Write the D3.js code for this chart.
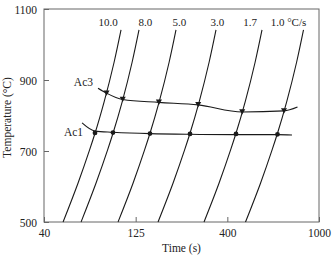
<!DOCTYPE html>
<html>
<head>
<meta charset="utf-8">
<script src="https://cdn.jsdelivr.net/npm/d3@7"></script>
<style>
body { margin: 0; background: #fff; }
text { font-family: "Liberation Serif", "DejaVu Serif", serif; fill: #222; }
</style>
</head>
<body>
<script>
// heating rates, one curve each
var rates = ["10.0", "8.0", "5.0", "3.0", "1.7", "1.0 °C/s"];

// every curve is read at the same temperatures (°C)
var curveTemps = [500, 610, 703, 750, 840, 950, 1041];
// time (s) of each curve at those temperatures
var curveTimes = [
  [50.7, 61.1, 70.5, 75.4, 84.6, 95.6, 104.2],
  [63.4, 76.4, 88.2, 94.3, 105.9, 119.6, 130.4],
  [100.4, 121.1, 140.0, 149.9, 168.7, 191.1, 208.5],
  [166.0, 201.0, 232.6, 249.1, 280.3, 317.4, 346.4],
  [297.5, 360.3, 413.3, 436.2, 478.7, 528.0, 565.7],
  [479.7, 557.8, 625.7, 660.4, 724.8, 799.4, 856.5]
];

// Ac3 points (triangles) and the ends of the Ac3 line
var ac3Times = [87.0, 106.4, 167.9, 276.4, 464.1, 704.8];
var ac3Temps = [863, 845, 837, 830, 810, 813];
var ac3Start = [78.3, 877];
var ac3End = [806.6, 824];

// Ac1 points (dots) and the Ac1 line
var ac1Times = [75.4, 94.3, 149.9, 249.1, 436.2, 660.4];
var ac1Temps = [751, 752, 749, 748, 748, 747];
var ac1LineTimes = [64.2, 75.4, 94.3, 149.9, 249.1, 436.2, 660.4, 763.4];
var ac1LineTemps = [779, 756, 753, 749, 747, 746, 746, 745];

// axis ticks
var xTicks = [40, 125, 400, 1000];
var yTicks = [500, 700, 900, 1100];

var W = 333, H = 257;
var margin = {top: 9, right: 14, bottom: 35, left: 44};
var innerW = W - margin.left - margin.right;
var innerH = H - margin.top - margin.bottom;

var svg = d3.select("body").append("svg")
  .attr("width", W)
  .attr("height", H);

var g = svg.append("g")
  .attr("transform", "translate(" + margin.left + "," + margin.top + ")");

// the time ticks sit at equal spacing, log inside each piece
var x = d3.scaleLog()
  .domain(xTicks)
  .range(xTicks.map(function(d, i){ return i * innerW / (xTicks.length - 1); }));
var y = d3.scaleLinear().domain([500, 1100]).range([innerH, 0]);

// frame
g.append("rect")
  .attr("width", innerW)
  .attr("height", innerH)
  .attr("fill", "none")
  .attr("stroke", "#666")
  .attr("stroke-width", 1);

// axes, ticks pointing inward
var xAxis = g.append("g")
  .attr("transform", "translate(0," + innerH + ")")
  .call(d3.axisBottom(x).tickValues(xTicks).tickFormat(d3.format("d")).tickSizeInner(-5).tickSizeOuter(0).tickPadding(7));
var yAxis = g.append("g")
  .call(d3.axisLeft(y).tickValues(yTicks).tickFormat(d3.format("d")).tickSizeInner(-5).tickSizeOuter(0).tickPadding(7));

[xAxis, yAxis].forEach(function(a){
  a.select(".domain").remove();
  a.selectAll("line").attr("stroke", "#666");
  a.selectAll("text").attr("font-size", "11.5px").attr("font-family", "Liberation Serif").attr("fill", "#222");
});
yAxis.selectAll("text").attr("dy", "0.42em");

// axis titles
g.append("text")
  .attr("x", innerW / 2)
  .attr("y", innerH + 30)
  .attr("text-anchor", "middle")
  .attr("font-size", "11.5px")
  .text("Time (s)");
g.append("text")
  .attr("transform", "translate(" + (11 - margin.left) + "," + (innerH / 2 + 2) + ") rotate(-90)")
  .attr("text-anchor", "middle")
  .attr("font-size", "11.5px")
  .text("Temperature (°C)");

var rateLine = d3.line()
  .x(function(d){ return x(d[0]); })
  .y(function(d){ return y(d[1]); })
  .curve(d3.curveMonotoneY);
var acLine = d3.line()
  .x(function(d){ return x(d[0]); })
  .y(function(d){ return y(d[1]); })
  .curve(d3.curveMonotoneX);

// heating curves
var curves = curveTimes.map(function(ts){
  return ts.map(function(t, i){ return [t, curveTemps[i]]; });
});
g.selectAll(".rate").data(curves).enter()
  .append("path")
  .attr("class", "rate")
  .attr("d", rateLine)
  .attr("fill", "none")
  .attr("stroke", "#1a1a1a")
  .attr("stroke-width", 1.1);

// rate labels above each curve top
var labelDx = [-13, 6.5, 3.5, 1.5, -12, -15];
g.selectAll(".rlab").data(curves).enter()
  .append("text")
  .attr("class", "rlab")
  .attr("x", function(d, i){ return x(d[d.length - 1][0]) + labelDx[i]; })
  .attr("y", function(d){ return y(d[d.length - 1][1]) - 4; })
  .attr("text-anchor", "middle")
  .attr("font-size", "11px")
  .text(function(d, i){ return rates[i]; });

// Ac3 line and markers
var ac3Line = [ac3Start].concat(ac3Times.map(function(t, i){ return [t, ac3Temps[i]]; }), [ac3End]);
g.append("path")
  .attr("d", acLine(ac3Line))
  .attr("fill", "none")
  .attr("stroke", "#1a1a1a")
  .attr("stroke-width", 1.1);
g.selectAll(".tri").data(ac3Times).enter()
  .append("path")
  .attr("class", "tri")
  .attr("d", d3.symbol(d3.symbolTriangle, 16))
  .attr("transform", function(d, i){ return "translate(" + x(d) + "," + (y(ac3Temps[i]) - 1) + ") rotate(180)"; })
  .attr("fill", "#1a1a1a");

// Ac1 line and markers
g.append("path")
  .attr("d", acLine(ac1LineTimes.map(function(t, i){ return [t, ac1LineTemps[i]]; })))
  .attr("fill", "none")
  .attr("stroke", "#1a1a1a")
  .attr("stroke-width", 1.1);
g.selectAll(".dot").data(ac1Times).enter()
  .append("circle")
  .attr("class", "dot")
  .attr("cx", function(d){ return x(d); })
  .attr("cy", function(d, i){ return y(ac1Temps[i]); })
  .attr("r", 2.4)
  .attr("fill", "#1a1a1a");

// Ac3 / Ac1 names at the left ends of their lines
g.append("text")
  .attr("x", x(ac3Start[0]) - 5)
  .attr("y", y(ac3Start[1]) - 2)
  .attr("text-anchor", "end")
  .attr("font-size", "11.5px")
  .text("Ac3");
g.append("text")
  .attr("x", x(ac1LineTimes[0]) + 1)
  .attr("y", y(ac1LineTemps[0]) + 13)
  .attr("text-anchor", "end")
  .attr("font-size", "11.5px")
  .text("Ac1");
</script>
</body>
</html>
